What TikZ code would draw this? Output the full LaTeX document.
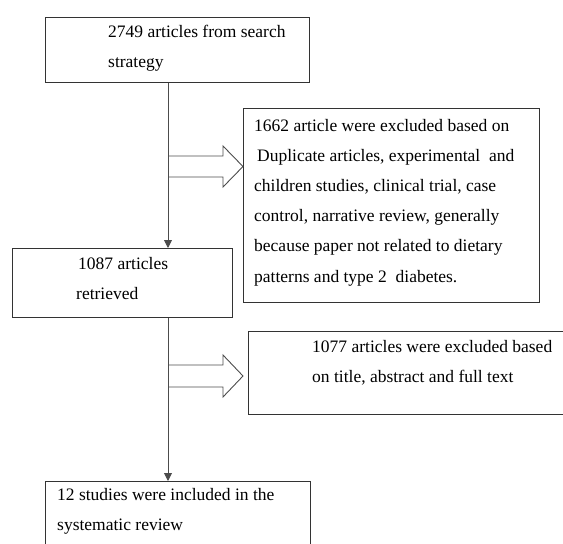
\documentclass[tikz,border=0pt]{standalone}
\usepackage{fontspec}
\setmainfont{Liberation Serif}
\usetikzlibrary{positioning, arrows.meta}

\begin{document}
\begin{tikzpicture}[x=1pt, y=-1pt, >={Triangle[length=8pt, width=8pt]},
    box/.style={draw=black!80, line width=1pt, anchor=north west, inner sep=0pt},
    txt/.style={anchor=base west, align=left, inner sep=0pt, font=\fontsize{17.5}{29.5}\selectfont},
    line/.style={draw=black!70, line width=0.9pt}]
    \useasboundingbox (0,0) rectangle (563,544);

    % boxes
    \node[box, minimum width=264pt, minimum height=65pt] (search) at (45,17) {};
    \node[box, minimum width=296pt, minimum height=194pt] (excl1) at (243,108) {};
    \node[box, minimum width=220pt, minimum height=69pt] (retrieved) at (12,248) {};
    \node[box, minimum width=330pt, minimum height=83pt] (excl2) at (248,331) {};
    \node[box, minimum width=265pt, minimum height=70pt] (included) at (45,481) {};

    % texts (placed at the baseline of their last line)
    \node[txt] (searchtxt) at (108,67) {2749 articles from search\\strategy};
    \node[txt, font=\fontsize{17.5}{30.2}\selectfont] (excl1txt) at (254,282) {1662 article were excluded based on\\
        \hspace{3pt}Duplicate articles, experimental\ \ and\\
        children studies, clinical trial, case\\
        control, narrative review, generally\\
        because paper not related to dietary\\
        patterns and type 2\ \ diabetes.};
    \node[txt] (retrievedtxt) at (76,299) {\hspace{2pt}1087 articles\\retrieved};
    \node[txt] (excl2txt) at (312,382) {1077 articles were excluded based\\on title, abstract and full text};
    \node[txt] (includedtxt) at (57,530) {12 studies were included in the\\systematic review};

    % arrows
    \coordinate (spine) at (168,0);
    \coordinate (tip1) at (243,166.5);
    \coordinate (tip2) at (243,376);

    \draw[line, ->] (search.south -| spine) -- (retrieved.north -| spine);
    \draw[line, ->] (retrieved.south -| spine) -- (included.north -| spine);

    \draw[line] (spine |- tip1) ++(0,-10.5) -- ++(55,0) -- ++(0,-10) -- (tip1) -- ++(-20,20.5) -- ++(0,-10) -- ++(-55,0);
    \draw[line] (spine |- tip2) ++(0,-11) -- ++(55,0) -- ++(0,-10) -- (tip2) -- ++(-20,21) -- ++(0,-10) -- ++(-55,0);
\end{tikzpicture}
\end{document}
